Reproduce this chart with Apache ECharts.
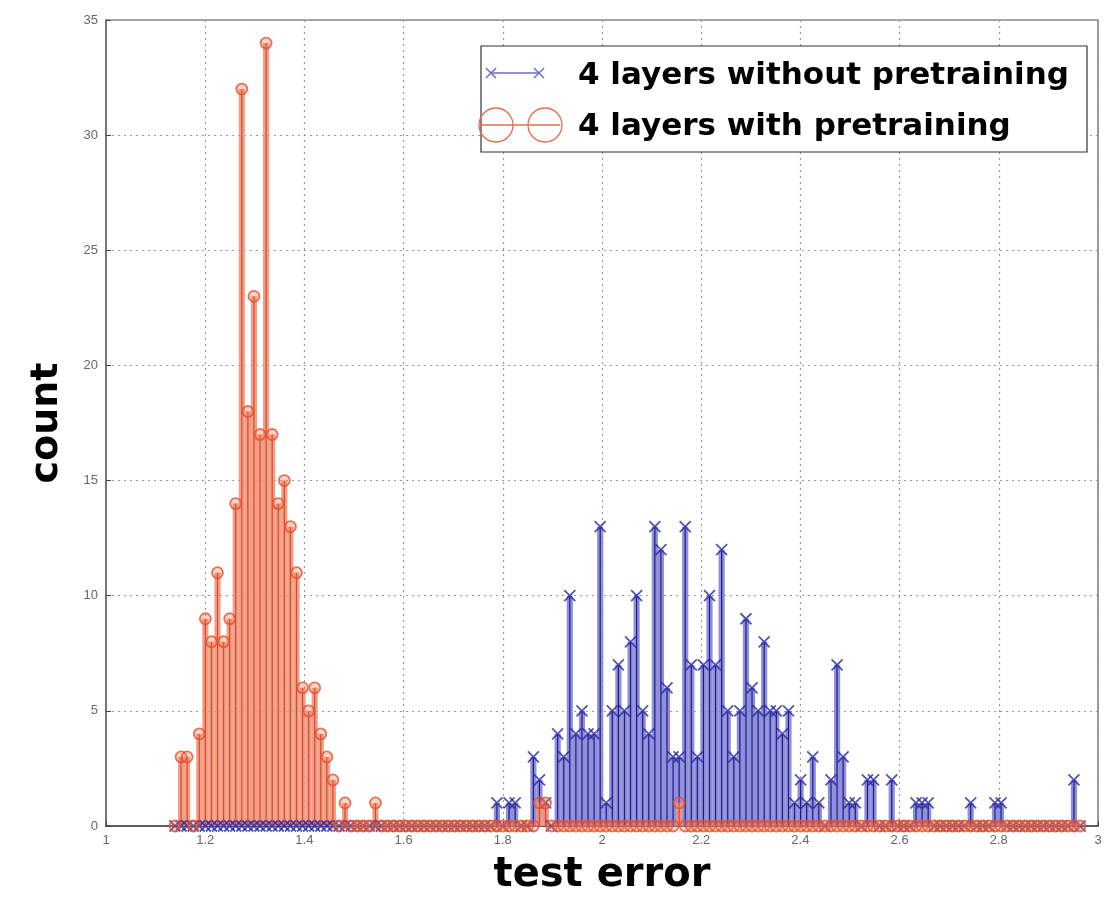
<!DOCTYPE html>
<html>
<head>
    <meta charset="UTF-8">
    <title>Test error histogram</title>
    <script src="https://cdn.jsdelivr.net/npm/echarts@6/dist/echarts.min.js"></script>
    <style>
        html, body { margin: 0; padding: 0; background: #fff; }
        #chart { width: 1118px; height: 897px; }
    </style>
</head>
<body>
    <div id="chart"></div>
    <script>
        // histogram bins shared by both runs (150 bins between ~1.14 and ~2.96)
        var binFirst = 1.1391;
        var binStep = 0.012246;
        var binCount = 150;

        // 4 layers without pretraining: non-empty bins and their counts
        var blueBins   = [53, 55, 56, 59, 60, 61, 63, 64, 65, 66, 67, 68, 69, 70, 71, 72, 73, 74, 75, 76, 77, 78, 79, 80, 81, 82, 83, 84, 85, 86, 87, 88, 89, 90,
                          91, 92, 93, 94, 95, 96, 97, 98, 99, 100, 101, 102, 103, 104, 105, 106, 108, 109, 110, 111, 112, 114, 115, 118, 122, 123, 124, 131, 135, 136, 148];
        var blueCounts = [1, 1, 1, 3, 2, 1, 4, 3, 10, 4, 5, 4, 4, 13, 1, 5, 7, 5, 8, 10, 5, 4, 13, 12, 6, 3, 3, 13, 7, 3, 7, 10, 7, 12,
                          5, 3, 5, 9, 6, 5, 8, 5, 5, 4, 5, 1, 2, 1, 3, 1, 2, 7, 3, 1, 1, 2, 2, 2, 1, 1, 1, 1, 1, 1, 2];

        // 4 layers with pretraining
        var redBins   = [1, 2, 4, 5, 6, 7, 8, 9, 10, 11, 12, 13, 14, 15, 16, 17, 18, 19, 20, 21, 22, 23, 24, 25, 26, 28, 33, 60, 61, 83];
        var redCounts = [3, 3, 4, 9, 8, 11, 8, 9, 14, 32, 18, 23, 17, 34, 17, 14, 15, 13, 11, 6, 5, 6, 4, 3, 2, 1, 1, 1, 1, 1];

        var xTicks = { min: 1, max: 3, interval: 0.2 };
        var yTicks = { min: 0, max: 35, interval: 5 };

        function binCenter(i) {
            return binFirst + i * binStep;
        }

        // full list of (x, count) for every bin, empty bins get 0
        function toSeries(bins, counts) {
            var full = [];
            for (var i = 0; i < binCount; i++) {
                var k = bins.indexOf(i);
                full.push([binCenter(i), k >= 0 ? counts[k] : 0]);
            }
            return full;
        }

        var blueData = toSeries(blueBins, blueCounts);
        var redData = toSeries(redBins, redCounts);

        // stem: light wide bar plus thin dark line
        function stem(light, dark) {
            return function (params, api) {
                var x = api.value(0), y = api.value(1);
                if (!y) return null;
                var p0 = api.coord([x, 0]);
                var p1 = api.coord([x, y]);
                var h = p0[1] - p1[1];
                return {
                    type: 'group',
                    children: [
                        { type: 'rect', shape: { x: p0[0] - 3.1, y: p1[1], width: 6.2, height: h }, style: { fill: light } },
                        { type: 'rect', shape: { x: p0[0] - 0.6, y: p1[1], width: 1.2, height: h }, style: { fill: dark } }
                    ]
                };
            };
        }

        var blueLight = 'rgba(132,132,212,0.9)';
        var blueDark = '#1a1a90';
        var blueMark = '#2b2ba6';
        var redLight = 'rgba(238,152,128,0.92)';
        var redDark = '#e2461f';
        var redMark = '#e5502e';
        var xPath = 'path://M0,0L10,10M10,0L0,10';

        var chart = echarts.init(document.getElementById('chart'));

        function legendLine(x1, y1, x2, y2, color) {
            return { type: 'line', z: 101, shape: { x1: x1, y1: y1, x2: x2, y2: y2 }, style: { stroke: color, lineWidth: 1.5 } };
        }

        var option = {
            animation: false,
            grid: {
                left: 106, right: 20, top: 20, bottom: 71, containLabel: false, outerBoundsMode: 'none',
                show: true, borderColor: '#555', borderWidth: 1.2
            },
            xAxis: {
                type: 'value', min: xTicks.min, max: xTicks.max, interval: xTicks.interval,
                axisLine: { show: true, lineStyle: { color: '#444', width: 1.5 } },
                axisTick: { show: true, inside: true, length: 5, lineStyle: { color: '#444' } },
                axisLabel: { color: '#666', fontSize: 13, fontFamily: 'Liberation Sans', margin: 8 },
                splitLine: { show: true, lineStyle: { color: '#9a9a9a', type: [2, 4], width: 1.2 } },
                name: 'test error', nameLocation: 'middle', nameGap: 30,
                nameTextStyle: { fontFamily: 'DejaVu Sans', fontWeight: 'bold', fontSize: 40, color: '#000' }
            },
            yAxis: {
                type: 'value', min: yTicks.min, max: yTicks.max, interval: yTicks.interval,
                axisLine: { show: true, lineStyle: { color: '#777', width: 2 } },
                axisTick: { show: true, inside: true, length: 5, lineStyle: { color: '#444' } },
                axisLabel: { color: '#666', fontSize: 13, fontFamily: 'Liberation Sans', margin: 8 },
                splitLine: { show: true, lineStyle: { color: '#9a9a9a', type: [2, 4], width: 1.2 } },
                name: 'count', nameLocation: 'middle', nameGap: 40,
                nameTextStyle: { fontFamily: 'DejaVu Sans', fontWeight: 'bold', fontSize: 38, color: '#000' }
            },
            series: [
                {
                    name: '4 layers without pretraining', type: 'custom', data: blueData,
                    renderItem: stem(blueLight, blueDark), z: 2
                },
                {
                    name: '4 layers with pretraining', type: 'custom', data: redData,
                    renderItem: stem(redLight, redDark), z: 3
                },
                {
                    name: 'nopre-marks', type: 'scatter', data: blueData, symbol: xPath, symbolSize: 11,
                    itemStyle: { color: 'none', borderColor: blueMark, borderWidth: 1.8 }, z: 4
                },
                {
                    name: 'pre-marks', type: 'scatter', data: redData, symbol: 'circle', symbolSize: 11,
                    itemStyle: { color: 'rgba(238,120,90,0.4)', borderColor: redMark, borderWidth: 1.8 }, z: 5
                }
            ],
            graphic: [
                { type: 'rect', z: 100, shape: { x: 481, y: 46, width: 606, height: 106 }, style: { fill: '#fff', stroke: '#333', lineWidth: 1.2 } },
                legendLine(491, 73, 539, 73, '#6a6ad0'),
                legendLine(486, 68, 496, 78, '#6a6ad0'),
                legendLine(496, 68, 486, 78, '#6a6ad0'),
                legendLine(534, 68, 544, 78, '#6a6ad0'),
                legendLine(544, 68, 534, 78, '#6a6ad0'),
                { type: 'text', z: 101, x: 578, y: 76, style: { text: '4 layers without pretraining', fontFamily: 'DejaVu Sans', fontWeight: 'bold', fontSize: 31, fill: '#000', verticalAlign: 'middle' } },
                legendLine(480, 125, 560, 125, '#ea6a4a'),
                { type: 'circle', z: 101, shape: { cx: 496, cy: 125, r: 17 }, style: { fill: 'none', stroke: '#ea6a4a', lineWidth: 1.3 } },
                { type: 'circle', z: 101, shape: { cx: 545, cy: 125, r: 17 }, style: { fill: 'none', stroke: '#ea6a4a', lineWidth: 1.3 } },
                { type: 'text', z: 101, x: 578, y: 127, style: { text: '4 layers with pretraining', fontFamily: 'DejaVu Sans', fontWeight: 'bold', fontSize: 31, fill: '#000', verticalAlign: 'middle' } }
            ]
        };

        chart.setOption(option);
    </script>
</body>
</html>
